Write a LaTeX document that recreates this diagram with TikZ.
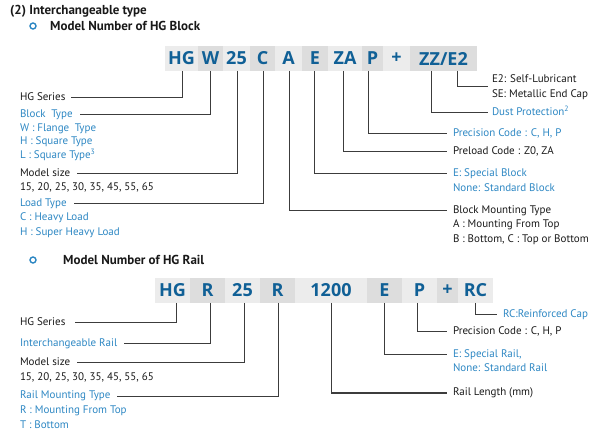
\documentclass[tikz,border=0pt]{standalone}
\usepackage{fontspec}
\setmainfont{PT Sans}
\newfontfamily\boxfont{Open Sans}
\definecolor{boxblue}{RGB}{16,96,150}
\definecolor{lblue}{RGB}{45,135,195}
\definecolor{glight}{RGB}{236,236,236}
\definecolor{gdark}{RGB}{221,221,221}
\definecolor{lnk}{RGB}{60,60,60}
\definecolor{txt}{RGB}{25,25,25}
\begin{document}
\begin{tikzpicture}[x=1pt,y=-1pt,
  cell/.style={inner sep=0pt, outer sep=0pt, minimum height=25pt, anchor=north west,
    font=\boxfont\bfseries\fontsize{18}{18}\selectfont, text=boxblue},
  lt/.style={cell, fill=glight},
  dk/.style={cell, fill=gdark},
  lab/.style={inner sep=0pt, outer sep=0pt, anchor=west, text height=7.5pt, text depth=2pt,
    font=\fontsize{11}{12}\selectfont, text=txt},
  blab/.style={lab, text=lblue},
  head/.style={inner sep=0pt, anchor=west, font=\bfseries\fontsize{13}{15}\selectfont, text=txt},
  conn/.style={draw=lnk, line width=1pt},
  bullet/.style={circle, draw=lblue, line width=1.4pt, minimum size=6pt, inner sep=0pt}
]
\useasboundingbox (0,0) rectangle (600,446);

% headings
\node[head] (title) at (10,11) {(2) Interchangeable type};
\node[bullet] (b1) at (33,26) {};
\node[head] (h1) at (50,26) {Model Number of HG Block};
\node[bullet] (b2) at (33,260) {};
\node[head] (h2) at (63,260) {Model Number of HG Rail};

% ---------- Block code row ----------
\node[lt, minimum width=33pt] (bHG) at (165,46) {HG};
\node[dk, minimum width=25pt] (bW) at (198,46) {W};
\node[lt, minimum width=27pt] (b25) at (223,46) {25};
\node[dk, minimum width=25pt] (bC) at (250,46) {C};
\node[lt, minimum width=27pt] (bA) at (275,46) {A};
\node[dk, minimum width=26pt] (bE) at (302,46) {E};
\node[lt, minimum width=34pt] (bZA) at (328,46) {ZA};
\node[dk, minimum width=21pt] (bP) at (362,46) {P};
\node[lt, minimum width=27pt] (bplus) at (383,46) {+};
\node[dk, minimum width=67pt] (bZZ) at (410,46) {ZZ/E2};

% block left labels
\node[lab] (lHG) at (20,98) {HG Series};
\node[blab] (lBT) at (20,115) {Block\enspace Type};
\node[blab] (lBT1) at (20,129) {W : Flange\enspace Type};
\node[blab] (lBT2) at (20,142) {H : Square Type};
\node[blab] (lBT3) at (20,156) {L : Square Type\textsuperscript{3}};
\node[lab] (lMS) at (20,174) {Model size};
\node[lab] (lMS1) at (20,188) {15, 20, 25, 30, 35, 45, 55, 65};
\node[blab] (lLT) at (20,204) {Load Type};
\node[blab] (lLT1) at (20,218) {C : Heavy Load};
\node[blab] (lLT2) at (20,233) {H : Super Heavy Load};

% block right labels
\node[lab] (rE2) at (492,80) {E2: Self-Lubricant};
\node[lab] (rSE) at (492,95) {SE: Metallic End Cap};
\node[blab] (rDP) at (492,113) {Dust Protection\textsuperscript{2}};
\node[blab] (rPC) at (453,134) {Precision Code : C, H, P};
\node[lab] (rPL) at (453,152) {Preload Code : Z0, ZA};
\node[blab] (rSB) at (453,174) {E: Special Block};
\node[blab] (rSB1) at (453,189) {None: Standard Block};
\node[lab] (rMT) at (453,211) {Block Mounting Type};
\node[lab] (rMT1) at (453,225) {A : Mounting From Top};
\node[lab] (rMT2) at (453,240) {B : Bottom, C : Top or Bottom};

\coordinate (cE2) at (488,87);

% block connectors
\draw[conn] ([xshift=0.5pt]bHG.south) |- ([xshift=6pt]lHG.east);
\draw[conn] ([xshift=-0.5pt]bW.south) |- ([xshift=7pt]lBT.east);
\draw[conn] ([xshift=0.5pt]b25.south) |- ([xshift=7pt]lMS.east);
\draw[conn] ([xshift=0.5pt]bC.south) |- ([xshift=7pt]lLT.east);
\draw[conn] ([xshift=0.5pt]bA.south) |- ([xshift=-6pt]rMT.west);
\draw[conn] ([xshift=-1pt]bE.south) |- ([xshift=-6pt]rSB.west);
\draw[conn] ([xshift=-2pt]bZA.south) |- ([xshift=-6pt]rPL.west);
\draw[conn] ([xshift=-4.5pt]bP.south) |- ([xshift=-6pt]rPC.west);
\draw[conn] ([xshift=-12.5pt]bZZ.south) |- ([xshift=-4pt]rDP.west);
\draw[conn] ([xshift=13.5pt]bZZ.south) |- (cE2);

% ---------- Rail code row ----------
\node[lt, minimum width=35pt] (rHG) at (155,278) {HG};
\node[dk, minimum width=35pt] (rR) at (190,278) {R};
\node[lt, minimum width=35pt] (r25) at (225,278) {25};
\node[dk, minimum width=35pt] (rR2) at (260,278) {R};
\node[lt, minimum width=72pt] (r1200) at (295,278) {1200};
\node[dk, minimum width=35pt] (rEb) at (367,278) {E};
\node[lt, minimum width=35pt] (rPb) at (402,278) {P};
\node[dk, minimum width=21pt] (rplus) at (437,278) {+};
\node[lt, minimum width=35pt] (rRC) at (458,278) {RC};

% rail left labels
\node[lab] (mHG) at (20,323) {HG Series};
\node[blab] (mIR) at (20,344) {Interchangeable Rail};
\node[lab] (mMS) at (20,363) {Model size};
\node[lab] (mMS1) at (20,378) {15, 20, 25, 30, 35, 45, 55, 65};
\node[blab] (mRM) at (20,396) {Rail Mounting Type};
\node[blab] (mRM1) at (20,411) {R : Mounting From Top};
\node[blab] (mRM2) at (20,426) {T : Bottom};

% rail right labels
\node[blab] (nRC) at (503,315) {RC:Reinforced Cap};
\node[lab] (nPC) at (453,332) {Precision Code : C, H, P};
\node[blab] (nSR) at (453,355) {E: Special Rail,};
\node[blab] (nSR1) at (453,369) {None: Standard Rail};
\node[lab] (nRL) at (453,393) {Rail Length (mm)};

% rail connectors
\draw[conn] ([xshift=3.5pt]rHG.south) |- ([xshift=10pt]mHG.east);
\draw[conn] ([xshift=2.5pt]rR.south) |- ([xshift=7pt]mIR.east);
\draw[conn] ([xshift=1.5pt]r25.south) |- ([xshift=7pt]mMS.east);
\draw[conn] ([xshift=0.5pt]rR2.south) |- ([xshift=7pt]mRM.east);
\draw[conn] (r1200.south) |- ([xshift=-6pt]nRL.west);
\draw[conn] (rEb.south) |- ([xshift=-6pt]nSR.west);
\draw[conn] ([xshift=-2.5pt]rPb.south) |- ([xshift=-6pt]nPC.west);
\draw[conn] (rRC.south) |- ([xshift=-6pt]nRC.west);
\end{tikzpicture}
\end{document}
